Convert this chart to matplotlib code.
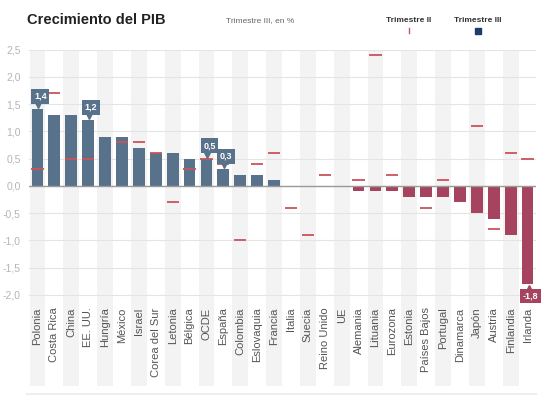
import numpy as np
import matplotlib
matplotlib.use("Agg")
import matplotlib.pyplot as plt
from matplotlib.transforms import offset_copy
from matplotlib.lines import Line2D

plt.rcParams['font.family'] = ['Liberation Sans', 'DejaVu Sans']

# datos
paises = ["Polonia", "Costa Rica", "China", "EE. UU.", "Hungría", "México",
          "Israel", "Corea del Sur", "Letonia", "Bélgica", "OCDE", "España",
          "Colombia", "Eslovaquia", "Francia", "Italia", "Suecia", "Reino Unido",
          "UE", "Alemania", "Lituania", "Eurozona", "Estonia", "Países Bajos",
          "Portugal", "Dinamarca", "Japón", "Austria", "Finlandia", "Irlanda"]
trim3 = [1.4, 1.3, 1.3, 1.2, 0.9, 0.9, 0.7, 0.6, 0.6, 0.5, 0.5, 0.3, 0.2, 0.2,
         0.1, 0.0, 0.0, 0.0, 0.0, -0.1, -0.1, -0.1, -0.2, -0.2, -0.2, -0.3,
         -0.5, -0.6, -0.9, -1.8]
nan = np.nan
trim2 = [0.3, 1.7, 0.5, 0.5, nan, 0.8, 0.8, 0.6, -0.3, 0.3, 0.5, 0.4, -1.0, 0.4,
         0.6, -0.4, -0.9, 0.2, nan, 0.1, 2.4, 0.2, nan, -0.4, 0.1, nan,
         1.1, -0.8, 0.6, 0.5]
destacados = ["Polonia", "EE. UU.", "OCDE", "España", "Irlanda"]
yticks = [2.5, 2.0, 1.5, 1.0, 0.5, 0.0, -0.5, -1.0, -1.5, -2.0]

azul = "#58728c"
rojo = "#a6445f"
raya = "#c9545a"

fig = plt.figure(figsize=(5.5, 3.96), dpi=100)
ax = fig.add_axes([29/550, 10/396, 507/550, 336.5/396])

x = np.arange(len(paises))
t3 = np.array(trim3)
t2 = np.array(trim2)

# franjas de fondo
for i in x[::2]:
    ax.axvspan(i - 0.47, i + 0.47, color="#f3f3f3", lw=0, zorder=0)

for t in yticks:
    ax.axhline(t, color="#e4e4e4", lw=0.8, zorder=1)
ax.axhline(0, color="#9a9a9a", lw=1.0, zorder=3)

colores = [azul if v >= 0 else rojo for v in t3]
ax.bar(x, t3, width=0.7, color=colores, zorder=2)
ax.hlines(t2, x - 0.36, x + 0.36, color=raya, lw=1.3, zorder=4)

# etiquetas destacadas
for p in destacados:
    i = paises.index(p)
    v = t3[i]
    txt = ("%.1f" % v).replace(".", ",")
    col = azul if v >= 0 else rojo
    dy = 13 if v >= 0 else -12
    ax.annotate(txt, xy=(i, v), xytext=(3, dy), textcoords="offset pixels",
                ha="center", va="center", color="white", fontsize=6.5,
                fontweight="bold", zorder=6,
                bbox=dict(boxstyle="square,pad=0.3", fc=col, ec="none"))
    tr = offset_copy(ax.transData, fig=fig, x=1, y=4 if v >= 0 else -4,
                     units="dots")
    ax.plot(i, v, marker="v" if v >= 0 else "^", ms=5, color=col,
            transform=tr, zorder=6, clip_on=False)

# nombres de paises
for i, p in enumerate(paises):
    ax.text(i, -2.23, p, rotation=90, ha="center", va="top",
            fontsize=8, color="#555555")

ax.set_xlim(-0.5, len(paises) - 0.5)
ax.set_ylim(-3.67, 2.5)
ax.set_yticks(yticks)
ax.set_yticklabels([("%.1f" % t).replace(".", ",") for t in yticks],
                   fontsize=7.5, color="#b5b5b5")
ax.tick_params(axis="y", length=0, pad=6)
ax.set_xticks([])
for s in ax.spines.values():
    s.set_visible(False)

# titulo y leyenda
fig.text(27/550, 1 - 20/396, "Crecimiento del PIB", fontsize=10.5,
         fontweight="bold", color="#222222", va="center")
fig.text(260/550, 1 - 21/396, "Trimestre III, en %", fontsize=6,
         color="#666666", ha="center", va="center")
fig.text(409/550, 1 - 20/396, "Trimestre II", fontsize=6, fontweight="bold",
         color="#333333", ha="center", va="center")
fig.text(478/550, 1 - 20/396, "Trimestre III", fontsize=6, fontweight="bold",
         color="#333333", ha="center", va="center")
fig.add_artist(Line2D([409/550, 409/550], [1 - 28/396, 1 - 33/396],
                      color=raya, lw=1))
fig.add_artist(Line2D([478/550], [1 - 31/396], marker="s", ms=4,
                      color="#1f3a6e", lw=0))
fig.add_artist(Line2D([27/550, 536/550], [1 - 394/396, 1 - 394/396],
                      color="#eeeeee", lw=1.5))

fig.savefig("out.png", dpi=100)
